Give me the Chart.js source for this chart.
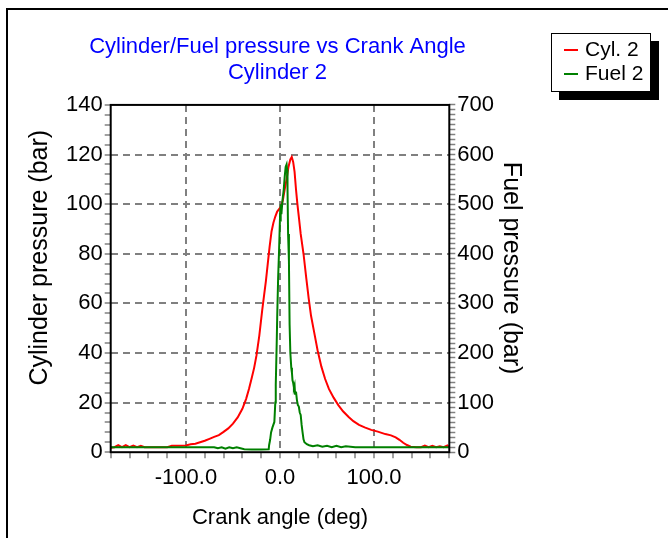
<!DOCTYPE html>
<html>
<head>
<meta charset="utf-8">
<script src="https://cdn.jsdelivr.net/npm/chart.js@4/dist/chart.umd.min.js"></script>
<style>
  html, body { margin: 0; padding: 0; background: #fff; }
  #wrap { position: relative; width: 668px; height: 538px; overflow: hidden; }
  #frame { position: absolute; left: 6px; top: 8px; width: 720px; height: 600px; border: 2px solid #000; }
  #chart { position: absolute; left: 0; top: 0; }
  #legend {
    position: absolute; left: 551px; top: 33px; width: 98px; height: 57px;
    border: 1.5px solid #000; background: #fff; box-shadow: 8px 8px 0 #000;
    font: 21px "Liberation Sans", Arial, sans-serif; color: #000;
  }
  #legend .row { position: absolute; left: 12px; height: 24px; line-height: 24px; white-space: nowrap; }
  #legend .sw { display: inline-block; width: 14px; height: 2px; vertical-align: middle; margin-right: 7px; }
</style>
</head>
<body>
<div id="wrap">
  <div id="frame"></div>
  <canvas id="chart" width="668" height="538"></canvas>
  <div id="legend">
    <div class="row" style="top:3px"><span class="sw" style="background:#ff0000"></span>Cyl. 2</div>
    <div class="row" style="top:27px"><span class="sw" style="background:#008000"></span>Fuel 2</div>
  </div>
</div>
<script>
var crankAngle = [-180, -176, -172, -168, -164, -160, -156, -152, -148, -144, -140, -130, -120, -115, -108, -100,
  -95, -90, -85, -80, -75, -70, -65, -60, -55, -50, -45, -40, -36, -33, -30, -27.5, -25, -22, -19, -17, -15,
  -13, -11, -9, -7, -5, -3, -1, 1, 3, 5, 7, 9, 11, 12.5, 14, 15.5, 17, 18.5, 20, 22, 25, 28, 30.5, 33, 36, 40,
  44, 48, 52, 57, 62, 67, 73, 78, 84, 90, 97, 104, 112, 118, 123, 127, 131, 135, 139, 145, 150, 154, 158, 162,
  166, 170, 174, 178, 180];
var cylPressure = [1.8, 2.0, 2.8, 2.0, 2.8, 2.0, 2.7, 2.0, 2.6, 2.0, 2.0, 2.0, 2.0, 2.6, 2.6, 2.7,
  3.2, 3.4, 4.0, 4.6, 5.4, 6.2, 6.9, 8.2, 9.6, 11.5, 14.0, 17.5, 21.5, 25.5, 30, 34, 39, 47, 57, 63, 69,
  76, 83, 89, 92.5, 95, 97, 98, 99, 101.5, 106, 110, 115, 118, 119, 117, 113, 106, 100, 95, 88, 80, 70, 62,
  55, 49, 41, 34.5, 29.5, 25.5, 22, 19, 16.5, 14.2, 12.5, 11, 10, 9, 8.3, 7.3, 6.8, 6.0, 5.0, 3.8, 2.9, 2.2,
  2.0, 2.0, 2.7, 2.0, 2.6, 2.0, 2.4, 2.0, 2.7, 2.0];

var fuelAngle = [-180, -150, -120, -90, -70, -66, -62, -58, -54, -50, -46, -42, -38, -30, -20, -12, -11.6,
  -10.5, -9.5, -8, -6, -5, -4.5, -3.5, -3, -2, -1, 0, 0.5, 1, 1.5, 2.5, 4, 5, 6, 7, 7.5, 8, 8.6, 9.5, 10.2,
  11, 12, 12.7, 13.3, 14, 14.8, 15.5, 16, 17, 18, 19, 20, 21, 22, 23, 24, 25, 26, 28.5, 31, 35, 40, 45, 50,
  55, 60, 65, 70, 80, 90, 120, 150, 180];
var fuelPressure = [10, 10, 10, 10, 10, 8, 10, 7, 10, 8, 10, 8, 6, 5.5, 5.5, 6, 14,
  25, 40, 50, 61, 100, 136, 220, 270, 350, 406, 473, 465, 500, 480, 505, 530, 555, 575, 580, 570, 530, 440, 385, 258,
  200, 170, 160, 145, 140, 130, 135, 118, 122, 105, 95, 92, 80, 75, 55, 40, 26, 20, 16, 14, 12, 14, 11, 13,
  10, 13, 10, 12, 10, 10, 10, 10, 10];

var xLabelValues = [-100, 0, 100];
var cylMax = 140, fuelMax = 700;

var toPoints = function (xs, ys) {
  return xs.map(function (x, i) { return { x: x, y: ys[i] }; });
};

var framePlugin = {
  id: 'frame',
  afterDatasetsDraw: function (chart) {
    var a = chart.chartArea, ctx = chart.ctx;
    ctx.save();
    ctx.strokeStyle = '#000';
    ctx.lineWidth = 2;
    ctx.strokeRect(a.left, a.top, a.right - a.left, a.bottom - a.top);
    ctx.restore();
  }
};

var family = '"Liberation Sans", Arial, sans-serif';
var font = { family: family, size: 22 };
var sideFont = { family: family, size: 25 };
var gridGrey = '#808080';

var config = {
  type: 'line',
  data: {
    datasets: [{
      label: 'Cyl. 2',
      data: toPoints(crankAngle, cylPressure),
      borderColor: '#ff0000',
      borderWidth: 2,
      pointRadius: 0,
      tension: 0,
      yAxisID: 'y',
      order: 1
    }, {
      label: 'Fuel 2',
      data: toPoints(fuelAngle, fuelPressure),
      borderColor: '#008000',
      borderWidth: 2,
      pointRadius: 0,
      tension: 0,
      yAxisID: 'y1',
      order: 0
    }]
  },
  options: {
    responsive: false,
    animation: false,
    layout: { padding: { left: 25, right: 138, top: 34, bottom: 7 } },
    plugins: {
      legend: { display: false },
      tooltip: { enabled: false },
      title: {
        display: true,
        text: ['Cylinder/Fuel pressure vs Crank Angle', 'Cylinder 2'],
        color: '#0000ff',
        font: { family: family, size: 22, weight: 'normal', lineHeight: 1.18 },
        fullSize: true,
        padding: { top: 0, bottom: 19 }
      }
    },
    scales: {
      x: {
        type: 'linear',
        min: -180,
        max: 180,
        ticks: {
          stepSize: 20,
          autoSkip: false,
          maxRotation: 0,
          color: '#000',
          font: font,
          padding: 7,
          callback: function (v) { return xLabelValues.indexOf(v) >= 0 ? v.toFixed(1) : ''; }
        },
        grid: {
          color: function (c) { return c.tick && xLabelValues.indexOf(c.tick.value) >= 0 ? gridGrey : 'rgba(0,0,0,0)'; },
          lineWidth: 2,
          tickColor: gridGrey,
          tickLength: 6,
          tickWidth: 1.5
        },
        border: { display: false, dash: [7, 5] },
        title: { display: true, text: 'Crank angle (deg)', color: '#000', font: font, padding: { top: 6, bottom: 0 } }
      },
      y: {
        position: 'left',
        min: 0,
        max: cylMax,
        ticks: {
          stepSize: 4,
          autoSkip: false,
          color: '#000',
          font: font,
          padding: 2,
          callback: function (v) { return v % 20 === 0 ? String(v) : ''; }
        },
        grid: {
          color: function (c) {
            var v = c.tick ? c.tick.value : -1;
            return (v % 20 === 0 && v > 0 && v < cylMax) ? gridGrey : 'rgba(0,0,0,0)';
          },
          lineWidth: 2,
          tickColor: gridGrey,
          tickLength: 6,
          tickWidth: 1.5
        },
        border: { display: false, dash: [7, 5] },
        title: { display: true, text: '      Cylinder pressure (bar)', color: '#000', font: sideFont, padding: { top: 0, bottom: 9 } }
      },
      y1: {
        position: 'right',
        min: 0,
        max: fuelMax,
        ticks: {
          stepSize: 10,
          autoSkip: false,
          color: '#000',
          font: font,
          padding: 2,
          callback: function (v) { return v % 100 === 0 ? String(v) : ''; }
        },
        grid: {
          drawOnChartArea: false,
          tickColor: gridGrey,
          tickLength: 6,
          tickWidth: 1.5
        },
        border: { display: false },
        title: { display: true, text: 'Fuel pressure (bar)   ', color: '#000', font: sideFont, padding: { top: 4, bottom: 0 } }
      }
    }
  },
  plugins: [framePlugin]
};

var ctx = document.getElementById('chart').getContext('2d');
var chart = new Chart(ctx, config);
</script>
</body>
</html>
